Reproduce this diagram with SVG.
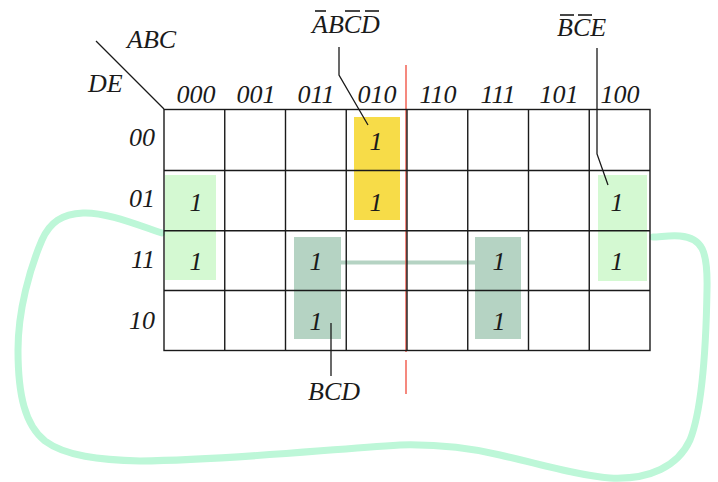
<svg xmlns="http://www.w3.org/2000/svg" width="718" height="482" viewBox="0 0 718 482">
<style>
text{font-family:"Liberation Serif","Times New Roman",serif;font-style:italic;font-size:26px;fill:#1a1a1a}
.c{text-anchor:middle}
.r{text-anchor:end}
.g{stroke:#1a1a1a;stroke-width:1.4;fill:none}
.ld{stroke:#1a1a1a;stroke-width:1.3;fill:none}
.ob{stroke:#1a1a1a;stroke-width:1.6}
</style>
<rect width="718" height="482" fill="#fff"/>
<g id="groupings">
<rect id="g-abcd" x="354" y="117" width="46" height="103" fill="#f7dc48"/>
<rect id="g-bce-left" x="165" y="175" width="51" height="105" fill="#d4f9d2"/>
<rect id="g-bce-right" x="598" y="175" width="49" height="106" fill="#d4f9d2"/>
<rect id="g-bcd-left" x="294" y="237" width="47" height="102" fill="#b5d3c3"/>
<rect id="g-bcd-right" x="475" y="237" width="46" height="102" fill="#b5d3c3"/>
</g>
<g id="connectors">
<line x1="341" y1="262.5" x2="475" y2="262.5" stroke="#b5d3c3" stroke-width="4"/>
<path d="M162 233 C135 224 105 212 83 213 C62 214 50 222 42 240 C30 268 18 310 18 350 C18 395 25 425 45 441 C65 456 100 460 140 461 C230 460 320 450 400 445 C440 444 470 448 500 455 C540 464 580 476 610 478 C650 480 678 466 690 440 C702 410 706 350 707 290 C708 250 702 238 680 236 C670 235 660 237 653 237" fill="none" stroke="#bdf7d8" stroke-width="7" stroke-linecap="round"/>
<line x1="406" y1="65" x2="406" y2="352" stroke="#f04a3a" stroke-width="1.3"/>
<line x1="406" y1="360" x2="406" y2="394" stroke="#f04a3a" stroke-width="1.3"/>
<polyline class="ld" points="339,47 339,75 368,125"/>
<polyline class="ld" points="597,48 597,154 608,185"/>
<line class="ld" x1="331" y1="323" x2="331" y2="376"/>
<line class="ld" x1="96" y1="41" x2="164" y2="109"/>
</g>
<g id="grid">
<rect class="g" x="164" y="109.5" width="486" height="241"/>
<path class="g" d="M224.75 109.5V350.5M285.5 109.5V350.5M346.25 109.5V350.5M407 109.5V350.5M467.75 109.5V350.5M528.5 109.5V350.5M589.25 109.5V350.5M164 170.5H650M164 230.75H650M164 290.5H650"/>
</g>
<g id="axis-labels">
<text x="127" y="48">ABC</text>
<text x="88" y="92">DE</text>
</g>
<g id="col-labels" class="c">
<text class="c" x="196" y="103">000</text>
<text class="c" x="256" y="103">001</text>
<text class="c" x="316" y="103">011</text>
<text class="c" x="377" y="103">010</text>
<text class="c" x="438" y="103">110</text>
<text class="c" x="498" y="103">111</text>
<text class="c" x="559" y="103">101</text>
<text class="c" x="620" y="103">100</text>
</g>
<g id="row-labels">
<text class="r" x="155" y="146">00</text>
<text class="r" x="155" y="207">01</text>
<text class="r" x="155" y="268">11</text>
<text class="r" x="155" y="329">10</text>
</g>
<g id="cells">
<text class="c" x="376" y="150">1</text>
<text class="c" x="376" y="211">1</text>
<text class="c" x="196" y="211">1</text>
<text class="c" x="196" y="270">1</text>
<text class="c" x="617" y="211">1</text>
<text class="c" x="617" y="270">1</text>
<text class="c" x="316" y="270">1</text>
<text class="c" x="316" y="330">1</text>
<text class="c" x="499" y="270">1</text>
<text class="c" x="499" y="330">1</text>
</g>
<g id="label-abcd">
<text x="312" y="33">ABCD</text>
<line class="ob" x1="315" y1="11" x2="326" y2="11"/>
<line class="ob" x1="345" y1="11" x2="360" y2="11"/>
<line class="ob" x1="365" y1="11" x2="379" y2="11"/>
</g>
<g id="label-bce">
<text x="557" y="36">BCE</text>
<line class="ob" x1="560" y1="15" x2="574" y2="15"/>
<line class="ob" x1="578" y1="15" x2="592" y2="15"/>
</g>
<g id="label-bcd">
<text class="c" x="334" y="400">BCD</text>
</g>
</svg>
